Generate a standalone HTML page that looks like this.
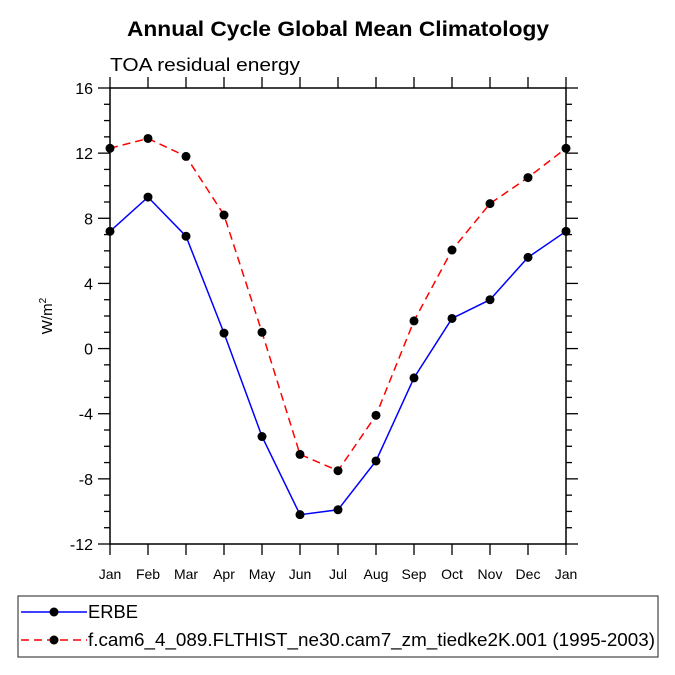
<!DOCTYPE html>
<html><head><meta charset="utf-8"><style>body{margin:0;background:#fff}svg{display:block;font-family:"Liberation Sans",Arial,sans-serif}</style></head>
<body>
<svg id="chart" width="675" height="675">
<text x="127" y="36" textLength="422" lengthAdjust="spacingAndGlyphs" font-size="21" font-weight="bold">Annual Cycle Global Mean Climatology</text>
<text x="110" y="71" textLength="190" lengthAdjust="spacingAndGlyphs" font-size="18">TOA residual energy</text>
<text transform="translate(52,316) rotate(-90)" text-anchor="middle" font-size="15">W/m<tspan font-size="10" dy="-6">2</tspan></text>
<g id="ticks"></g>
<g id="series"></g>
<rect x="110" y="88" width="456" height="456" fill="none" stroke="#000" stroke-width="1.5"/>
<g>
<rect x="18" y="596" width="640" height="61" fill="none" stroke="#444" stroke-width="1.2"/>
<g>
<line x1="21" y1="612" x2="87" y2="612" stroke="#00f" stroke-width="1.5"/><circle cx="54" cy="612" r="4.5"/>
<text x="88" y="618" textLength="50" lengthAdjust="spacingAndGlyphs" font-size="18">ERBE</text></g>
<g>
<line x1="21" y1="640" x2="87" y2="640" stroke="#f00" stroke-width="1.5" stroke-dasharray="8,5"/><circle cx="54" cy="640" r="4.5"/>
<text x="88" y="646" textLength="567" lengthAdjust="spacingAndGlyphs" font-size="18">f.cam6_4_089.FLTHIST_ne30.cam7_zm_tiedke2K.001 (1995-2003)</text></g>
</g>
</svg>
<script>
const months=["Jan","Feb","Mar","Apr","May","Jun","Jul","Aug","Sep","Oct","Nov","Dec","Jan"];
const yTicks=[-12,-8,-4,0,4,8,12,16];
const erbe=[7.2,9.3,6.9,0.95,-5.4,-10.2,-9.9,-6.9,-1.8,1.85,3.0,5.6,7.2];
const model=[12.3,12.9,11.8,8.2,1.0,-6.5,-7.5,-4.1,1.7,6.05,8.9,10.5,12.3];
const NS="http://www.w3.org/2000/svg";
const X0=110,X1=566,Y0=544,Y1=88,YMIN=-12,YMAX=16;
const xs=i=>X0+(X1-X0)*i/(months.length-1);
const ys=v=>Y0-(v-YMIN)*(Y0-Y1)/(YMAX-YMIN);
function mk(tag,attrs,parent){const e=document.createElementNS(NS,tag);for(const k in attrs)e.setAttribute(k,attrs[k]);parent.appendChild(e);return e;}
const tg=document.getElementById('ticks');
months.forEach((m,i)=>{const x=xs(i);
mk('line',{x1:x,y1:Y0,x2:x,y2:Y0+11,stroke:'#000','stroke-width':1.3},tg);
mk('line',{x1:x,y1:Y1-11,x2:x,y2:Y1,stroke:'#000','stroke-width':1.3},tg);
const t=mk('text',{x:x,y:579,'text-anchor':'middle','font-size':14},tg);t.textContent=m;


});
for(let v=YMIN;v<=YMAX;v++){const y=ys(v);const major=yTicks.includes(v);const L=major?12:6;
mk('line',{x1:X0-L,y1:y,x2:X0,y2:y,stroke:'#000','stroke-width':1.3},tg);
mk('line',{x1:X1,y1:y,x2:X1+L,y2:y,stroke:'#000','stroke-width':1.3},tg);}
yTicks.forEach(v=>{const t=mk('text',{x:X0-17,y:ys(v)+6,'text-anchor':'end','font-size':16},tg);t.textContent=v;


});
const sg=document.getElementById('series');
function draw(data,color,dash,name){
const g=mk('g',{},sg);


const pts=data.map((v,i)=>xs(i)+','+ys(v)).join(' ');
const pl=mk('polyline',{points:pts,fill:'none',stroke:color,'stroke-width':1.5},g);
if(dash)pl.setAttribute('stroke-dasharray',dash);
data.forEach((v,i)=>{const c=mk('circle',{cx:xs(i),cy:ys(v),r:4.5,fill:'#000'},g);

});
}
draw(model,'#f00','8,5','model-series');
draw(erbe,'#00f',null,'erbe-series');
</script>
</body></html>
